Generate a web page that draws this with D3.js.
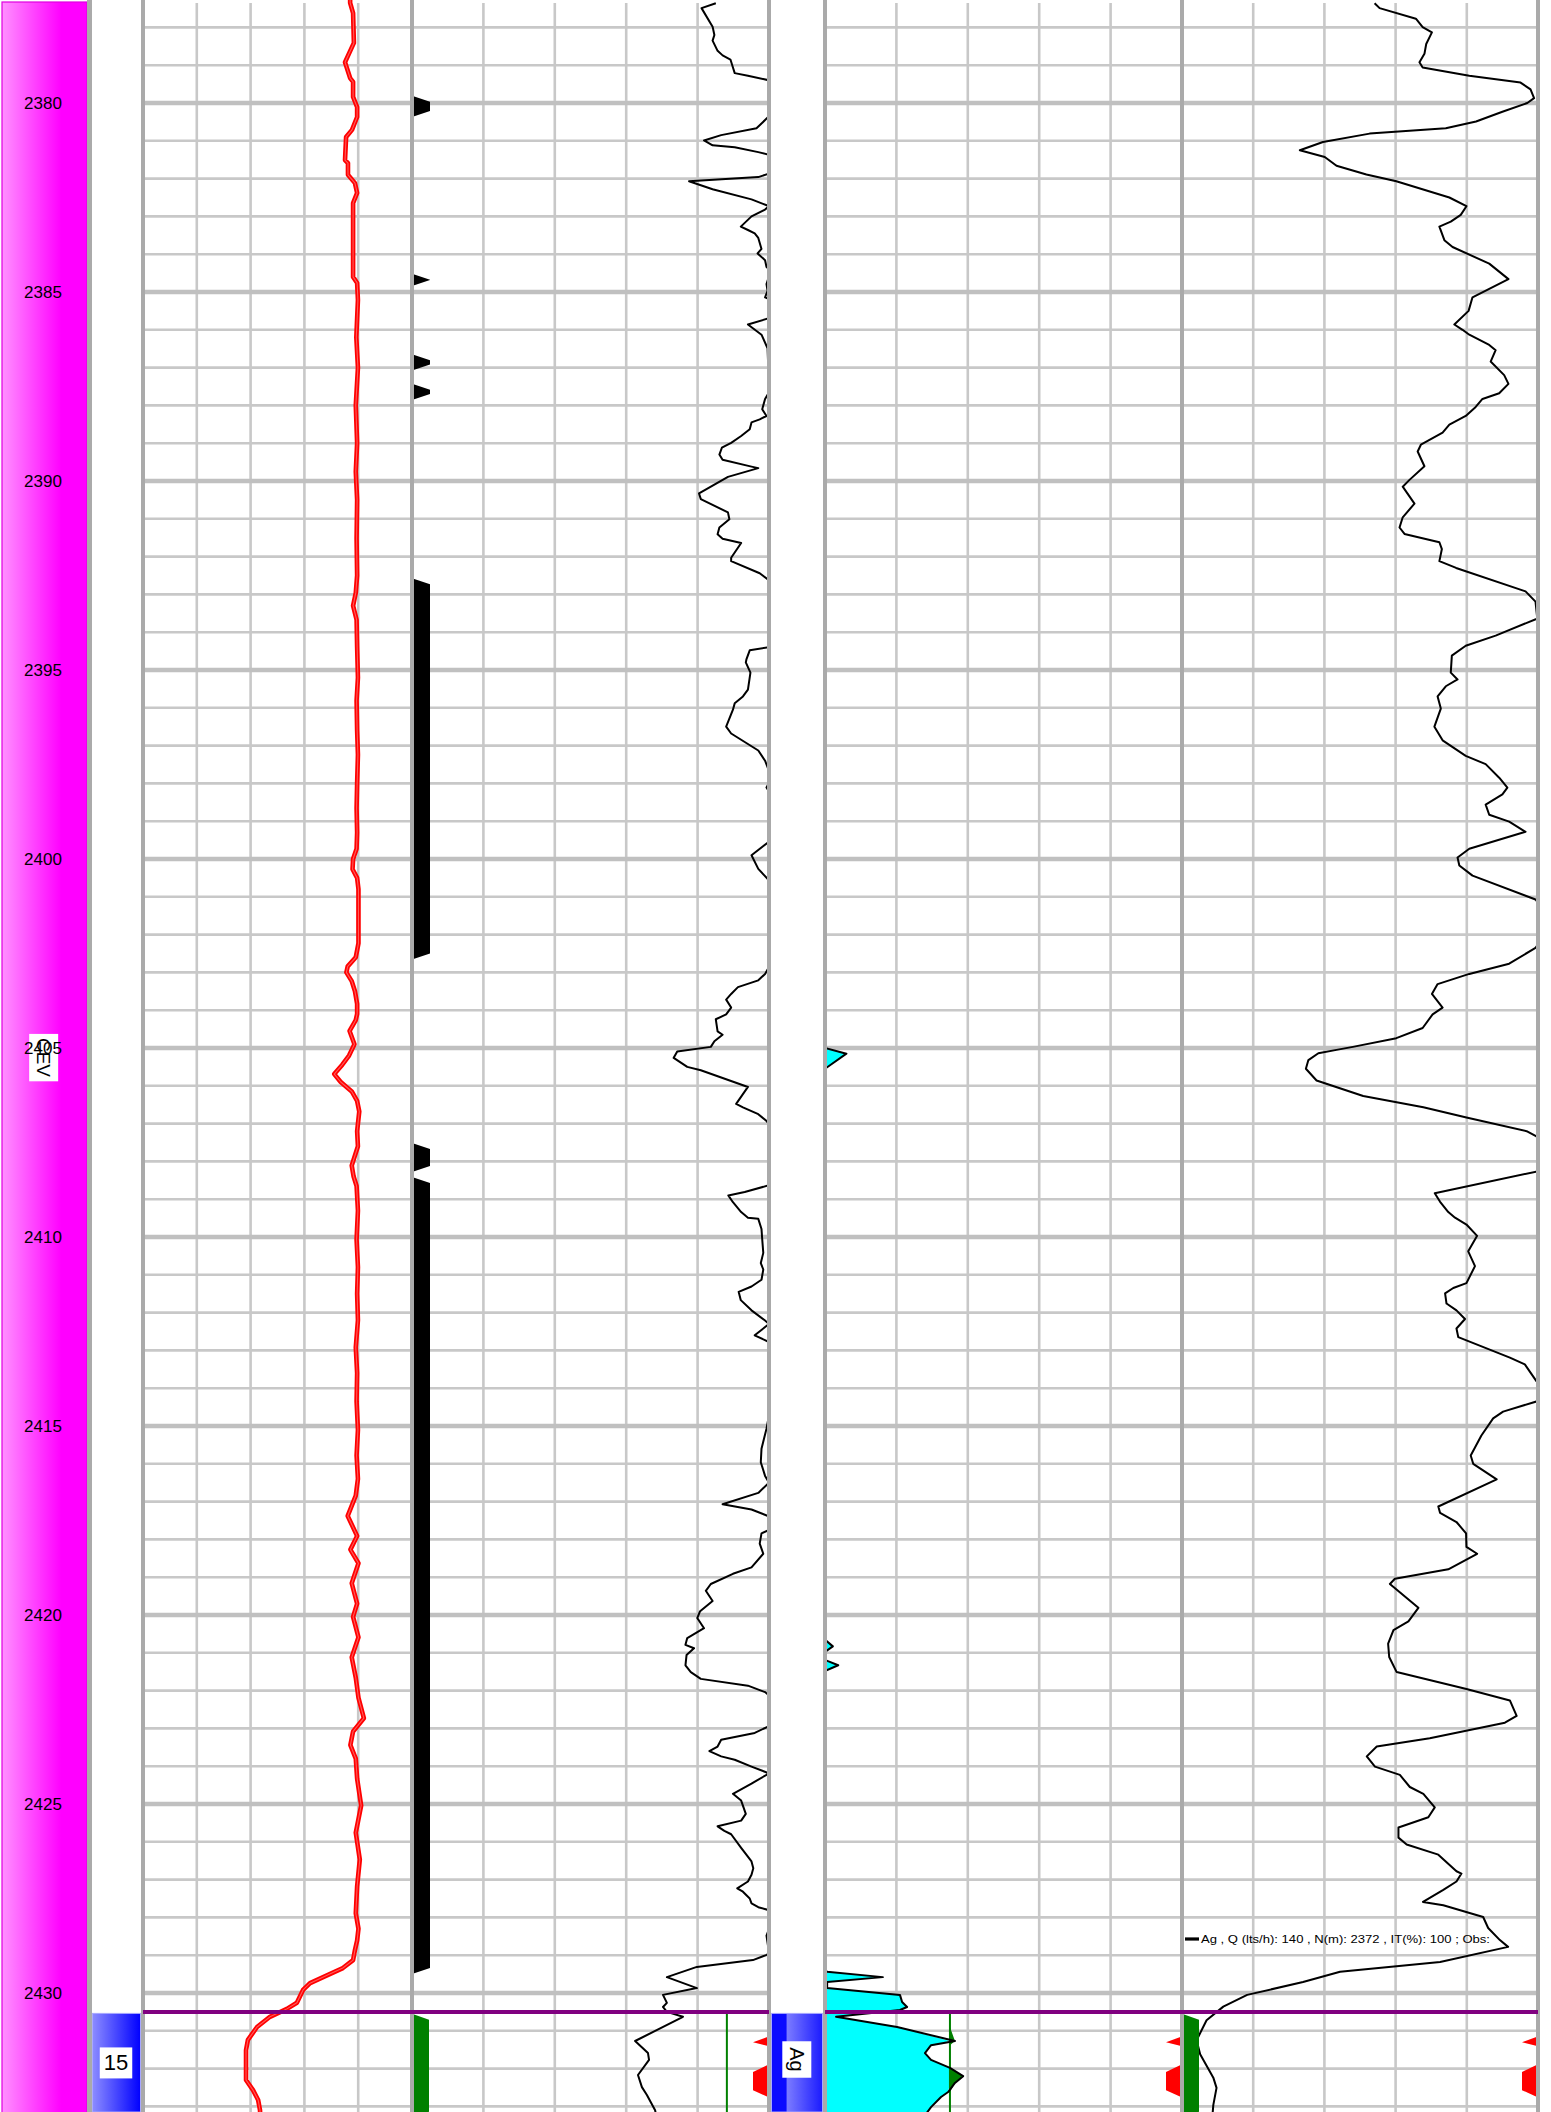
<!DOCTYPE html>
<html><head><meta charset="utf-8">
<script src="https://cdn.jsdelivr.net/npm/d3@7"></script>
<style>body{margin:0;background:#fff}svg{display:block}</style>
</head><body>
<script>
// ---------------- DATA ----------------
const depthLabels = [2380,2385,2390,2395,2400,2405,2410,2415,2420,2425,2430];
const gridValues = [20,40,60,80];
const intervalLabel = "CEV";
const intervalLabelDepth = 2405.25;
const testNumber = "15";
const fluidLabel = "Ag";
const testTop = 2430.5;
const legendText = "Ag , Q (lts/h): 140 , N(m): 2372 , IT(%): 100 ; Obs:";
const track2Cutoff = 88.2;
const track3Cutoff = 35;

// track 1 (red curve) [depth, value 0-100]
const redCurve = [[2377.2,77.0],[2377.35,77.0],[2377.62,78.1],[2378.41,78.4],[2378.92,75.1],[2379.34,77.0],[2379.44,78.1],[2379.84,78.1],[2380.11,79.6],[2380.37,79.6],[2380.71,77.7],[2380.90,75.5],[2381.51,75.1],[2381.59,76.2],[2381.90,76.2],[2382.12,78.8],[2382.38,79.6],[2382.65,78.1],[2384.60,78.1],[2384.76,79.6],[2385.21,79.9],[2386.2,79.3],[2387.0,79.9],[2388.0,79.1],[2389.0,79.6],[2389.75,79.1],[2390.5,79.6],[2391.53,79.4],[2392.5,79.6],[2392.96,79.1],[2393.3,78.1],[2393.67,79.4],[2394.39,79.6],[2395.2,79.9],[2395.81,79.4],[2396.6,79.6],[2397.24,79.9],[2398.0,79.6],[2398.66,79.4],[2399.3,79.6],[2399.73,79.4],[2400.0,78.1],[2400.27,77.9],[2400.5,79.6],[2400.8,80.1],[2401.5,80.1],[2402.23,80.1],[2402.6,79.1],[2402.84,76.1],[2403.0,75.6],[2403.23,77.6],[2403.5,78.8],[2403.83,79.6],[2404.1,79.6],[2404.26,79.1],[2404.55,76.8],[2404.9,78.6],[2405.2,76.6],[2405.44,74.1],[2405.69,71.1],[2405.9,73.5],[2406.15,77.6],[2406.4,79.6],[2406.68,80.4],[2407.2,79.6],[2407.6,79.9],[2408.11,77.6],[2408.4,78.3],[2408.65,79.4],[2409.3,79.9],[2410.07,79.4],[2410.8,79.9],[2411.50,79.6],[2412.2,79.9],[2412.92,79.1],[2413.6,79.6],[2414.35,79.4],[2415.1,79.9],[2415.78,79.4],[2416.4,79.9],[2416.84,79.1],[2417.38,76.1],[2417.91,79.6],[2418.27,77.1],[2418.63,80.1],[2419.16,77.6],[2419.70,79.6],[2420.05,78.1],[2420.59,80.1],[2421.12,77.6],[2421.66,79.1],[2422.19,80.1],[2422.73,82.1],[2423.08,78.1],[2423.44,77.1],[2423.80,79.1],[2424.33,79.6],[2425.04,81.1],[2425.76,79.1],[2426.47,80.6],[2427.18,79.6],[2427.89,79.1],[2428.3,80.1],[2428.61,79.6],[2428.86,78.8],[2429.13,78.1],[2429.34,74.3],[2429.52,68.8],[2429.74,62.1],[2429.92,59.5],[2430.26,57.2],[2430.42,53.5],[2430.63,47.2],[2430.90,42.4],[2431.24,39.0],[2431.51,38.3],[2432.30,38.3],[2432.57,40.9],[2432.83,42.8],[2433.10,43.5],[2433.3,43.6]];

// track 2 black curve
const track2Curve = [[2377.36,85.1],[2377.49,81.1],[2377.98,84.2],[2378.20,84.7],[2378.35,84.2],[2378.62,85.6],[2378.74,87.0],[2378.85,89.2],[2379.06,89.9],[2379.21,90.4],[2379.28,94.1],[2379.42,101],[2379.9,103],[2380.35,100],[2380.67,96.5],[2380.85,86.6],[2380.99,81.8],[2381.12,84.2],[2381.17,90.4],[2381.30,97.0],[2381.39,101],[2381.6,103],[2381.84,101],[2381.96,97.0],[2382.07,77.6],[2382.28,84.2],[2382.55,95.1],[2382.73,100],[2382.82,98.9],[2383.00,95.1],[2383.27,92.1],[2383.36,94.1],[2383.45,96.0],[2383.57,97.0],[2383.86,97.9],[2383.98,96.8],[2384.16,98.9],[2384.34,99.3],[2384.43,100.5],[2384.79,99.3],[2384.97,99.6],[2385.14,98.9],[2385.23,101],[2385.5,103],[2385.68,100.5],[2385.86,94.1],[2386.13,97.9],[2386.49,99.6],[2387.02,99.8],[2387.3,101],[2387.65,100],[2387.83,98.9],[2388.10,98.1],[2388.28,99.3],[2388.37,97.4],[2388.45,95.1],[2388.63,94.6],[2388.81,92.2],[2388.99,89.4],[2389.12,86.8],[2389.30,86.1],[2389.44,87.0],[2389.62,95.1],[2389.66,97.0],[2389.89,88.5],[2390.33,80.4],[2390.48,80.9],[2390.83,88.5],[2391.01,88.9],[2391.23,86.1],[2391.41,85.6],[2391.53,87.0],[2391.64,92.2],[2392.03,89.4],[2392.12,89.4],[2392.44,97.4],[2392.66,100.5],[2393.5,103],[2394.39,100.5],[2394.48,94.6],[2394.71,93.7],[2394.80,93.5],[2395.07,94.8],[2395.52,94.1],[2395.70,92.7],[2395.88,90.4],[2396.05,89.9],[2396.50,88.0],[2396.68,89.4],[2397.13,97.0],[2397.40,98.9],[2397.67,100],[2397.9,100.5],[2398.11,99.3],[2398.29,100.5],[2399.0,101],[2399.54,100],[2399.90,95.1],[2400.26,97.0],[2400.62,100.5],[2401.7,103],[2402.86,100],[2403.04,98.9],[2403.21,97.0],[2403.39,91.3],[2403.57,89.4],[2403.72,88.0],[2403.93,89.4],[2404.11,88.0],[2404.24,85.1],[2404.56,85.6],[2404.65,87.0],[2404.82,84.7],[2404.97,83.7],[2405.09,74.3],[2405.26,73.3],[2405.50,77.1],[2405.59,80.9],[2406.03,94.1],[2406.48,90.8],[2406.57,92.7],[2406.75,97.0],[2406.93,99.3],[2407.02,100],[2407.8,102.5],[2408.63,100],[2408.81,93.2],[2408.90,88.6],[2409.08,89.9],[2409.34,92.2],[2409.49,94.1],[2409.52,97.0],[2409.79,97.9],[2410.06,98.1],[2410.42,98.4],[2410.69,97.7],[2410.86,98.4],[2411.13,97.9],[2411.31,95.1],[2411.45,91.5],[2411.67,92.1],[2411.94,95.1],[2412.21,98.9],[2412.30,100],[2412.60,96.0],[2412.78,100],[2413.7,102],[2414.71,100],[2415.07,99.3],[2415.60,97.9],[2415.96,97.7],[2416.32,98.9],[2416.50,100],[2416.77,97.0],[2417.07,87.0],[2417.21,95.1],[2417.39,100],[2417.6,100.5],[2417.75,100],[2417.84,97.9],[2418.11,97.4],[2418.38,98.4],[2418.74,95.1],[2418.91,89.9],[2419.18,83.7],[2419.36,82.3],[2419.63,84.2],[2419.90,80.7],[2420.08,79.9],[2420.35,81.8],[2420.61,77.1],[2420.79,76.6],[2420.88,79.0],[2421.06,76.9],[2421.33,76.6],[2421.51,78.1],[2421.69,80.9],[2421.87,94.1],[2422.04,98.9],[2422.13,100],[2422.5,101],[2422.94,100],[2423.12,96.0],[2423.30,86.6],[2423.48,85.6],[2423.60,83.3],[2423.74,86.6],[2423.83,90.4],[2424.01,95.1],[2424.19,100],[2424.46,95.1],[2424.73,89.9],[2424.91,92.2],[2425.26,93.5],[2425.44,92.2],[2425.59,85.6],[2425.71,87.5],[2425.80,89.4],[2426.16,92.2],[2426.52,95.1],[2426.70,95.6],[2426.87,95.1],[2427.05,94.1],[2427.23,91.1],[2427.32,92.7],[2427.50,94.6],[2427.63,95.1],[2427.73,97.0],[2427.81,100],[2428.1,101],[2428.31,100],[2428.48,99.3],[2428.93,100],[2428.99,99.4],[2429.13,95.5],[2429.31,79.8],[2429.58,71.4],[2429.87,79.8],[2430.05,70.3],[2430.26,71.4],[2430.37,70.3],[2430.50,71.4],[2430.63,75.9],[2431.27,62.5],[2431.59,66.1],[2431.77,66.4],[2432.17,63.3],[2432.49,64.4],[2432.70,65.8],[2433.10,68.1],[2433.3,68.5]];

// track 3 (fluid) curve
const track3Curve = [[2377.2,0],[2405.0,0],[2405.15,6],[2405.55,0],[2420.65,0],[2420.83,2.2],[2420.98,0],[2421.19,0],[2421.33,3.7],[2421.48,0],[2429.38,0],[2429.44,0.6],[2429.58,16.2],[2429.71,0.6],[2429.87,0.6],[2430.05,21.0],[2430.24,21.6],[2430.37,23.0],[2430.45,21.0],[2430.63,3.1],[2430.90,20.2],[2431.27,36.4],[2431.38,29.7],[2431.59,28.0],[2431.77,29.7],[2431.98,35.0],[2432.20,38.7],[2432.38,36.4],[2432.62,34.5],[2432.75,32.5],[2433.02,29.7],[2433.3,27.5]];

// track 4 curve
const track4Curve = [[2377.36,54.1],[2377.49,55.5],[2377.77,65.7],[2377.99,67.6],[2378.13,70.2],[2378.44,68.6],[2378.70,68.1],[2378.92,66.7],[2379.06,67.6],[2379.28,80.7],[2379.46,95.1],[2379.64,97.9],[2379.87,98.9],[2380.00,97.0],[2380.23,90.0],[2380.49,82.6],[2380.67,74.1],[2380.81,52.7],[2381.03,39.6],[2381.25,33.1],[2381.43,40.1],[2381.66,43.4],[2381.89,51.8],[2382.07,60.2],[2382.50,75.1],[2382.73,79.9],[2382.96,78.3],[2383.14,75.5],[2383.27,72.3],[2383.63,73.7],[2383.81,76.0],[2384.25,86.3],[2384.66,91.7],[2385.14,81.6],[2385.50,80.5],[2385.86,76.5],[2386.00,78.8],[2386.13,80.7],[2386.40,86.3],[2386.54,88.1],[2386.84,86.7],[2387.20,90.5],[2387.43,91.7],[2387.68,89.1],[2387.83,84.4],[2388.04,82.5],[2388.28,79.7],[2388.51,75.1],[2388.72,73.2],[2389.04,67.1],[2389.22,66.2],[2389.61,68.1],[2389.97,63.9],[2390.15,62.0],[2390.60,65.3],[2390.96,62.0],[2391.23,61.1],[2391.40,62.5],[2391.62,72.3],[2391.80,73.0],[2392.12,72.3],[2392.30,77.0],[2392.92,96.5],[2393.19,99.3],[2393.64,99.8],[2394.09,88.1],[2394.36,79.7],[2394.62,75.8],[2395.07,75.5],[2395.25,77.4],[2395.43,74.1],[2395.70,71.8],[2396.02,72.7],[2396.50,70.9],[2396.86,73.2],[2397.27,79.7],[2397.49,85.3],[2397.85,89.1],[2398.11,91.4],[2398.29,90.0],[2398.56,85.3],[2398.83,86.3],[2399.01,91.9],[2399.28,96.5],[2399.73,80.7],[2399.96,77.4],[2400.17,77.9],[2400.44,81.6],[2401.07,99.3],[2401.4,102],[2402.0,102],[2402.35,99.3],[2402.77,91.9],[2403.04,80.7],[2403.31,71.8],[2403.57,70.2],[2403.93,73.2],[2404.11,70.4],[2404.47,67.6],[2404.74,60.2],[2404.97,48.0],[2405.05,43.4],[2405.14,38.3],[2405.32,35.5],[2405.55,34.8],[2405.86,37.8],[2406.27,50.9],[2406.57,67.8],[2406.84,79.9],[2407.20,96.8],[2407.34,99.6],[2407.7,101],[2408.27,99.6],[2408.84,71.0],[2409.07,72.5],[2409.34,74.8],[2409.49,76.7],[2409.67,79.9],[2409.97,82.9],[2410.38,80.4],[2410.77,82.3],[2411.22,79.9],[2411.35,76.2],[2411.49,73.9],[2411.76,74.3],[2411.94,77.1],[2412.17,79.5],[2412.42,77.1],[2412.65,77.6],[2413.19,92.1],[2413.37,96.3],[2413.82,99.6],[2414.0,101],[2414.35,99.6],[2414.62,90.2],[2414.80,87.4],[2415.25,84.1],[2415.78,81.1],[2416.00,81.8],[2416.41,88.4],[2417.13,72.0],[2417.30,72.5],[2417.54,77.1],[2417.84,79.8],[2418.20,79.9],[2418.38,82.9],[2418.79,74.8],[2419.04,59.8],[2419.18,58.4],[2419.81,66.4],[2420.17,63.6],[2420.40,59.4],[2420.76,57.9],[2421.11,58.2],[2421.51,60.3],[2421.96,79.9],[2422.26,92.1],[2422.67,94.0],[2422.85,90.7],[2423.26,69.6],[2423.48,54.7],[2423.74,51.9],[2424.01,54.2],[2424.23,61.2],[2424.55,64.0],[2424.73,67.8],[2425.09,71.0],[2425.35,69.2],[2425.62,60.8],[2425.89,60.8],[2426.07,63.1],[2426.34,72.0],[2426.78,77.1],[2426.84,78.5],[2427.05,77.1],[2427.27,73.4],[2427.59,67.7],[2427.68,73.4],[2427.99,84.6],[2428.28,86.0],[2428.60,89.3],[2428.78,91.6],[2429.18,72.5],[2429.44,44.4],[2429.71,34.0],[2430.05,18.3],[2430.36,11.6],[2430.72,6.9],[2431.25,4.1],[2431.62,5.1],[2432.24,8.8],[2432.51,9.7],[2432.96,8.8],[2433.3,8.5]];

// black flag intervals at left edge of track 2 [top, bottom]
const blackFlags = [[2379.81,2380.37],[2384.52,2384.84],[2386.65,2387.08],[2387.43,2387.86],[2392.57,2402.66],[2407.51,2408.28],[2408.41,2429.50]];
// green test interval
const greenFlag = [2430.55, 2433.3];
// red markers at right edge of tracks 2-4 (depths)
const redTriangle = [2431.16, 2431.30, 2431.40];
const redTrapezoid = [2431.90, 2432.09, 2432.57, 2432.75];

// ---------------- DRAW ----------------
const W = 1551, H = 2112;
const FONT = "'Liberation Sans', Arial, sans-serif";
const svg = d3.select("body").append("svg").attr("width", W).attr("height", H);
const defs = svg.append("defs");

const y = d3.scaleLinear().domain([2380, 2430]).range([103, 1993]);
const dTop = y.invert(3), dBot = y.invert(H);

const tracks = [
  {id:"t1", x:d3.scaleLinear().domain([0,100]).range([143,412])},
  {id:"t2", x:d3.scaleLinear().domain([0,100]).range([412,769])},
  {id:"t3", x:d3.scaleLinear().domain([0,100]).range([825,1182])},
  {id:"t4", x:d3.scaleLinear().domain([0,100]).range([1182,1538])}
];

// gradients
const gMag = defs.append("linearGradient").attr("id","gMag");
gMag.append("stop").attr("offset","0%").attr("stop-color","#ff90ff");
gMag.append("stop").attr("offset","70%").attr("stop-color","#ff00ff");
gMag.append("stop").attr("offset","100%").attr("stop-color","#ff00ff");
const gBlue = defs.append("linearGradient").attr("id","gBlue");
gBlue.append("stop").attr("offset","0%").attr("stop-color","#8c8cff");
gBlue.append("stop").attr("offset","100%").attr("stop-color","#0000ff");
const gBlue2 = defs.append("linearGradient").attr("id","gBlue2");
gBlue2.append("stop").attr("offset","0%").attr("stop-color","#0a0aff");
gBlue2.append("stop").attr("offset","29%").attr("stop-color","#0a0aff");
gBlue2.append("stop").attr("offset","30%").attr("stop-color","#7c7cff");
gBlue2.append("stop").attr("offset","100%").attr("stop-color","#1a1aff");

tracks.forEach(t => {
  const [x0, x1] = t.x.range();
  defs.append("clipPath").attr("id", "clip-"+t.id)
    .append("rect").attr("x", x0+2).attr("y", 0).attr("width", x1-x0-4).attr("height", H);
});

// depth column
svg.append("rect").attr("x",2).attr("y",2).attr("width",85).attr("height",H)
  .attr("fill","url(#gMag)").attr("stroke","#e000e0").attr("stroke-width",1.2);
svg.append("rect").attr("x",87).attr("y",0).attr("width",5).attr("height",H).attr("fill","#aaaaaa");

// grid
const gridG = svg.append("g");
const intDepths = d3.range(Math.ceil(dTop), Math.floor(dBot)+1);
tracks.forEach(t => {
  const [x0, x1] = t.x.range();
  gridG.selectAll(null).data(intDepths.filter(d => d % 5 !== 0)).join("line")
    .attr("x1", x0).attr("x2", x1).attr("y1", d => y(d)).attr("y2", d => y(d))
    .attr("stroke", "#c8c8c8").attr("stroke-width", 2.6);
  gridG.selectAll(null).data(gridValues).join("line")
    .attr("x1", d => t.x(d)).attr("x2", d => t.x(d)).attr("y1", 3).attr("y2", H)
    .attr("stroke", "#c8c8c8").attr("stroke-width", 2.6);
  gridG.selectAll(null).data(intDepths.filter(d => d % 5 === 0)).join("line")
    .attr("x1", x0).attr("x2", x1).attr("y1", d => y(d)).attr("y2", d => y(d))
    .attr("stroke", "#c0c0c0").attr("stroke-width", 4.5);
});

const lineOf = (xs) => d3.line().x(d => xs(d[1])).y(d => y(d[0]));

// track 1 red curve
const t1 = tracks[0];
const g1 = svg.append("g").attr("clip-path","url(#clip-t1)");
g1.append("path").datum(redCurve).attr("d", lineOf(t1.x)).attr("fill","none")
  .attr("stroke","#ff0000").attr("stroke-width",4.6).attr("stroke-linejoin","round");
g1.append("path").datum(redCurve).attr("d", lineOf(t1.x)).attr("fill","none")
  .attr("stroke","#ff5a5a").attr("stroke-width",1.1).attr("stroke-linejoin","round");

// track 2 curve
const t2 = tracks[1];
const g2 = svg.append("g").attr("clip-path","url(#clip-t2)");
g2.append("path").datum(track2Curve).attr("d", lineOf(t2.x)).attr("fill","none")
  .attr("stroke","#000").attr("stroke-width",2).attr("stroke-linejoin","round");
g2.append("line").attr("x1", t2.x(track2Cutoff)).attr("x2", t2.x(track2Cutoff))
  .attr("y1", y(greenFlag[0])).attr("y2", H).attr("stroke","#008000").attr("stroke-width",2);

// track 3 fluid fill
const t3 = tracks[2];
const g3 = svg.append("g").attr("clip-path","url(#clip-t3)");
g3.append("path").datum(track3Curve)
  .attr("d", d3.area().y(d => y(d[0])).x0(t3.x(0)).x1(d => t3.x(Math.min(d[1], track3Cutoff))))
  .attr("fill","#00ffff");
g3.append("path").datum(track3Curve)
  .attr("d", d3.area().y(d => y(d[0])).x0(t3.x(track3Cutoff)).x1(d => t3.x(Math.max(d[1], track3Cutoff))))
  .attr("fill","#008000");
g3.append("line").attr("x1", t3.x(track3Cutoff)).attr("x2", t3.x(track3Cutoff))
  .attr("y1", y(greenFlag[0])).attr("y2", H).attr("stroke","#008000").attr("stroke-width",2);
g3.append("path").datum(track3Curve).attr("d", lineOf(t3.x)).attr("fill","none")
  .attr("stroke","#000").attr("stroke-width",2).attr("stroke-linejoin","round");

// track 4 curve
const t4 = tracks[3];
const g4 = svg.append("g").attr("clip-path","url(#clip-t4)");
g4.append("path").datum(track4Curve).attr("d", lineOf(t4.x)).attr("fill","none")
  .attr("stroke","#000").attr("stroke-width",2).attr("stroke-linejoin","round");

// flags at left edge of track 2
function flagPath(x0, w, top, bot) {
  const yt = y(top), yb = y(bot);
  const s = Math.min(6, (yb - yt) / 2);
  return `M${x0},${yt}L${x0+w},${yt+s}L${x0+w},${yb-s}L${x0},${yb}Z`;
}
svg.append("g").selectAll("path").data(blackFlags).join("path")
  .attr("d", d => flagPath(412, 18, d[0], d[1])).attr("fill","#000");
svg.append("path").attr("d", flagPath(412, 17, greenFlag[0], greenFlag[1])).attr("fill","#008000");
svg.append("path").attr("d", flagPath(1182, 17, greenFlag[0], greenFlag[1])).attr("fill","#008000");

// red markers
[t2, t3, t4].forEach(t => {
  const R = t.x(100) - 1;
  svg.append("path").attr("fill","#ff0000")
    .attr("d", `M${R},${y(redTriangle[0])}L${R-15},${y(redTriangle[1])}L${R},${y(redTriangle[2])}Z`);
  svg.append("path").attr("fill","#ff0000")
    .attr("d", `M${R},${y(redTrapezoid[0])}L${R-15},${y(redTrapezoid[1])}L${R-15},${y(redTrapezoid[2])}L${R},${y(redTrapezoid[3])}Z`);
});

// track borders
svg.append("g").selectAll("rect").data([141, 410, 767, 823, 1180, 1536]).join("rect")
  .attr("x", d => d).attr("y", 0).attr("width", 4).attr("height", H).attr("fill", "#aaaaaa");

// purple test top line
[t1, t2, t3, t4].forEach(t => {
  const [x0, x1] = t.x.range();
  svg.append("line").attr("x1", x0).attr("x2", x1).attr("y1", y(testTop)).attr("y2", y(testTop))
    .attr("stroke","#800080").attr("stroke-width",4);
});

// boxes
const boxTop = y(testTop) + 1.5;
svg.append("rect").attr("x",92.5).attr("y",boxTop).attr("width",48).attr("height",H-boxTop)
  .attr("fill","url(#gBlue)").attr("stroke","#a8a8ff").attr("stroke-width",1);
svg.append("rect").attr("x",771.5).attr("y",boxTop).attr("width",51).attr("height",H-boxTop)
  .attr("fill","url(#gBlue2)").attr("stroke","#a8a8ff").attr("stroke-width",1);

function boxedLabel(cx, cy, text, size, rotate, padX, padY) {
  const g = svg.append("g").attr("transform", `translate(${cx},${cy}) rotate(${rotate})`);
  const r = g.append("rect").attr("fill","#fff");
  const tx = g.append("text").text(text).attr("text-anchor","middle").attr("dy","0.36em")
    .attr("font-family", FONT).attr("font-size", size).attr("fill","#000");
  const b = tx.node().getBBox();
  r.attr("x", b.x - padX).attr("y", b.y - padY).attr("width", b.width + 2*padX).attr("height", b.height + 2*padY);
}
boxedLabel(116, 2062.5, testNumber, 22, 0, 4, 3);
boxedLabel(797, 2059.5, fluidLabel, 20, 90, 6, 3.5);
boxedLabel(44, y(intervalLabelDepth), intervalLabel, 19, 90, 4, 4);

// depth labels
svg.append("g").selectAll("text").data(depthLabels).join("text")
  .attr("x", 43).attr("y", d => y(d)).attr("dy","0.36em").attr("text-anchor","middle")
  .attr("font-family", FONT).attr("font-size", 17).attr("fill","#000").text(d => d);

// legend
const legY = 1939;
svg.append("rect").attr("x",1185).attr("y",legY-1.6).attr("width",14).attr("height",3.2).attr("fill","#000");
svg.append("text").attr("x",1201).attr("y",legY).attr("dy","0.36em")
  .attr("font-family", FONT).attr("font-size", 11.5).attr("fill","#000")
  .attr("textLength", 289).attr("lengthAdjust","spacingAndGlyphs").text(legendText);
</script>
</body></html>
